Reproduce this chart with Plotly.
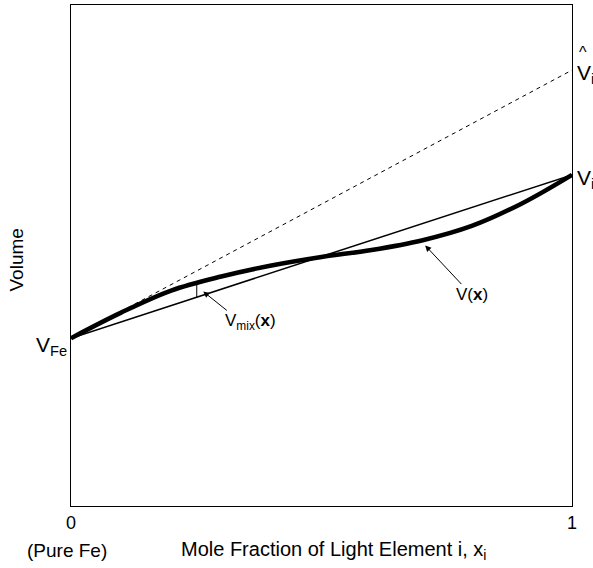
import plotly.graph_objects as go

# Composition axis (mole fraction of light element i)
x_frac = [0.0, 0.1, 0.2, 0.3, 0.4, 0.5, 0.6, 0.7, 0.8, 0.9, 1.0]
# Molar volume of the real solution V(x)
v_real = [0.335, 0.386, 0.430, 0.458, 0.480, 0.497, 0.511, 0.530, 0.559, 0.604, 0.661]

# End-member volumes
v_fe = 0.335
v_i = 0.661
v_i_partial = 0.870   # partial molar volume of i at infinite dilution

# Position of the excess-volume marker
x_mark = 0.251
v_mark_real = 0.445

ends = [0.0, 1.0]
ideal = [v_fe, v_i]
tangent = [v_fe, v_i_partial]
v_mark_ideal = v_fe + (v_i - v_fe) * x_mark

font = dict(family="Liberation Sans, Arial, sans-serif", size=19, color="black")
label_font = dict(font, size=17)
end_font = dict(font, size=21)

fig = go.Figure()
fig.add_trace(go.Scatter(x=ends, y=tangent, mode="lines",
                         line=dict(color="black", width=1, dash="4px,4px")))
fig.add_trace(go.Scatter(x=ends, y=ideal, mode="lines",
                         line=dict(color="black", width=1.5)))
fig.add_trace(go.Scatter(x=x_frac, y=v_real, mode="lines",
                         line=dict(color="black", width=4.5, shape="spline", smoothing=1.0)))
fig.add_trace(go.Scatter(x=[x_mark, x_mark], y=[v_mark_ideal, v_mark_real], mode="lines",
                         line=dict(color="black", width=1)))

annotations = [
    # end-member labels outside the plot frame
    dict(x=0, y=v_fe, xref="paper", yref="y", text="V<sub>Fe</sub>", showarrow=False,
         xanchor="right", yanchor="middle", xshift=-2, yshift=-8, font=end_font),
    dict(x=1, y=v_i, xref="paper", yref="y", text="V<sub>i</sub>", showarrow=False,
         xanchor="left", yanchor="middle", xshift=3, yshift=-4, font=end_font),
    dict(x=1, y=v_i_partial, xref="paper", yref="y", text="V<sub>i</sub>", showarrow=False,
         xanchor="left", yanchor="middle", xshift=3, yshift=-4, font=end_font),
    dict(x=1, y=v_i_partial, xref="paper", yref="y", text="^", showarrow=False,
         xanchor="center", yanchor="middle", xshift=11, yshift=18, font=dict(font, size=16)),
    # curve labels with pointers
    dict(x=0.264, y=0.428, xref="x", yref="y", ax=0.314, ay=0.388, axref="x", ayref="y",
         text="", showarrow=True, arrowhead=2, arrowsize=1.2, arrowwidth=1, arrowcolor="black"),
    dict(x=0.358, y=0.367, xref="x", yref="y", text="V<sub>mix</sub>(<b>x</b>)", showarrow=False,
         font=label_font),
    dict(x=0.707, y=0.520, xref="x", yref="y", ax=0.782, ay=0.440, axref="x", ayref="y",
         text="", showarrow=True, arrowhead=2, arrowsize=1.2, arrowwidth=1, arrowcolor="black"),
    dict(x=0.800, y=0.422, xref="x", yref="y", text="V(<b>x</b>)", showarrow=False,
         font=label_font),
    # axis captions
    dict(x=-0.008, y=0, xref="paper", yref="paper", yshift=-44, text="(Pure Fe)",
         showarrow=False, xanchor="center", yanchor="middle", font=font),
    dict(x=0.523, y=0, xref="paper", yref="paper", yshift=-44,
         text="Mole Fraction of Light Element i, x<sub>i</sub>",
         showarrow=False, xanchor="center", yanchor="middle", font=dict(font, size=20)),
    dict(x=0, y=0.49, xref="paper", yref="paper", xshift=-54, text="Volume",
         showarrow=False, textangle=-90, xanchor="center", yanchor="middle", font=font),
]

fig.update_layout(
    width=593, height=568,
    margin=dict(l=71, r=21, t=5, b=62),
    paper_bgcolor="white", plot_bgcolor="white",
    showlegend=False,
    font=font,
    annotations=annotations,
    xaxis=dict(range=[0, 1], showgrid=False, zeroline=False, showline=True, mirror=True,
               linecolor="black", linewidth=1, tickvals=[0, 1], ticktext=["0", "1"],
               ticks="", tickfont=dict(font, size=18)),
    yaxis=dict(range=[0, 1], showgrid=False, zeroline=False, showline=True, mirror=True,
               linecolor="black", linewidth=1, showticklabels=False, ticks=""),
)

fig.write_html("out.html")
